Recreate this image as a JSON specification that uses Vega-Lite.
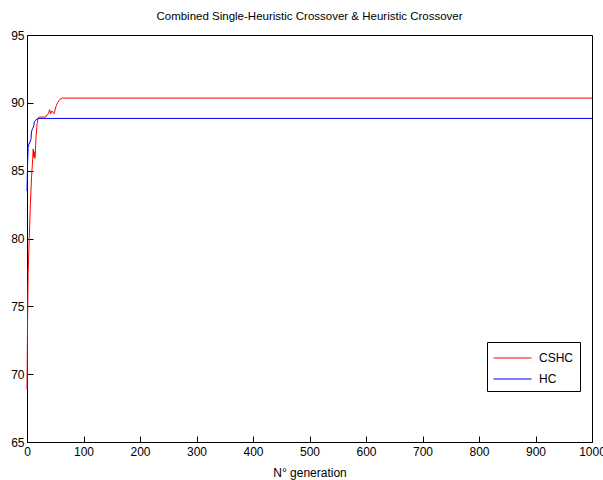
{
  "$schema": "https://vega.github.io/schema/vega-lite/v6.json",
  "width": 565,
  "height": 407,
  "autosize": "none",
  "padding": {"left": 27, "top": 35, "right": 11, "bottom": 38},
  "background": "white",
  "config": {
    "view": {"stroke": "black", "strokeWidth": 1},
    "font": "Liberation Sans",
    "axis": {"labelFont": "Liberation Sans", "labelFontSize": 12, "labelColor": "black", "grid": false, "titleFontWeight": "normal", "titleColor": "black"}
  },
  "title": {"text": "Combined Single-Heuristic Crossover & Heuristic Crossover", "fontSize": 11.5, "fontWeight": "normal", "font": "Liberation Sans", "color": "black", "offset": 7},
  "data": {"values": [
    {"g": "CSHC", "x": 0, "y": 68.9},
    {"g": "CSHC", "x": 1, "y": 74},
    {"g": "CSHC", "x": 2, "y": 77.5},
    {"g": "CSHC", "x": 4, "y": 80},
    {"g": "CSHC", "x": 6, "y": 82.5},
    {"g": "CSHC", "x": 8, "y": 84.5},
    {"g": "CSHC", "x": 10, "y": 85.8},
    {"g": "CSHC", "x": 11, "y": 86.6},
    {"g": "CSHC", "x": 12, "y": 86.0},
    {"g": "CSHC", "x": 13, "y": 86.4},
    {"g": "CSHC", "x": 14, "y": 85.9},
    {"g": "CSHC", "x": 15, "y": 86.5},
    {"g": "CSHC", "x": 16, "y": 87.5},
    {"g": "CSHC", "x": 18, "y": 88.5},
    {"g": "CSHC", "x": 20, "y": 88.9},
    {"g": "CSHC", "x": 22, "y": 88.95},
    {"g": "CSHC", "x": 33, "y": 88.95},
    {"g": "CSHC", "x": 35, "y": 89.1},
    {"g": "CSHC", "x": 38, "y": 89.2},
    {"g": "CSHC", "x": 40, "y": 89.5},
    {"g": "CSHC", "x": 42, "y": 89.2},
    {"g": "CSHC", "x": 44, "y": 89.4},
    {"g": "CSHC", "x": 46, "y": 89.3},
    {"g": "CSHC", "x": 48, "y": 89.2},
    {"g": "CSHC", "x": 51, "y": 89.7},
    {"g": "CSHC", "x": 54, "y": 90.0},
    {"g": "CSHC", "x": 58, "y": 90.25},
    {"g": "CSHC", "x": 62, "y": 90.35},
    {"g": "CSHC", "x": 1000, "y": 90.35},
    {"g": "HC", "x": 0, "y": 83.5},
    {"g": "HC", "x": 1, "y": 85.5},
    {"g": "HC", "x": 2, "y": 86.7},
    {"g": "HC", "x": 3, "y": 86.9},
    {"g": "HC", "x": 5, "y": 87.1},
    {"g": "HC", "x": 7, "y": 87.3},
    {"g": "HC", "x": 8, "y": 87.9},
    {"g": "HC", "x": 10, "y": 88.1},
    {"g": "HC", "x": 12, "y": 88.3},
    {"g": "HC", "x": 13, "y": 88.6},
    {"g": "HC", "x": 16, "y": 88.75},
    {"g": "HC", "x": 20, "y": 88.85},
    {"g": "HC", "x": 1000, "y": 88.85}
  ]},
  "mark": {"type": "line", "strokeWidth": 1, "interpolate": "linear"},
  "encoding": {
    "x": {"field": "x", "type": "quantitative", "scale": {"domain": [0, 1000], "nice": false, "zero": false},
          "axis": {"orient": "bottom", "tickCount": 10, "format": "d", "ticks": true, "tickSize": 6, "tickColor": "black", "tickWidth": 1, "offset": -6, "domain": false, "labelPadding": 4, "title": "N° generation", "titleFontSize": 12, "titleFont": "Liberation Sans", "titlePadding": 10, "labelFlush": false}},
    "y": {"field": "y", "type": "quantitative", "scale": {"domain": [65, 95], "nice": false, "zero": false},
          "axis": {"orient": "left", "tickCount": 6, "ticks": true, "tickSize": 6, "tickColor": "black", "tickWidth": 1, "offset": -6, "domain": false, "labelPadding": 3, "title": null}},
    "color": {"field": "g", "type": "nominal", "scale": {"domain": ["CSHC", "HC"], "range": ["#ff0000", "#0000ff"]},
              "legend": {"title": null, "orient": "none", "legendX": 460, "legendY": 307, "symbolType": "M-1,0H3", "symbolSize": 361, "symbolStrokeWidth": 1, "labelFontSize": 12, "labelFont": "Liberation Sans", "labelColor": "black", "strokeColor": "black", "fillColor": "white", "padding": 6, "rowPadding": 5, "labelOffset": 26}}
  }
}
